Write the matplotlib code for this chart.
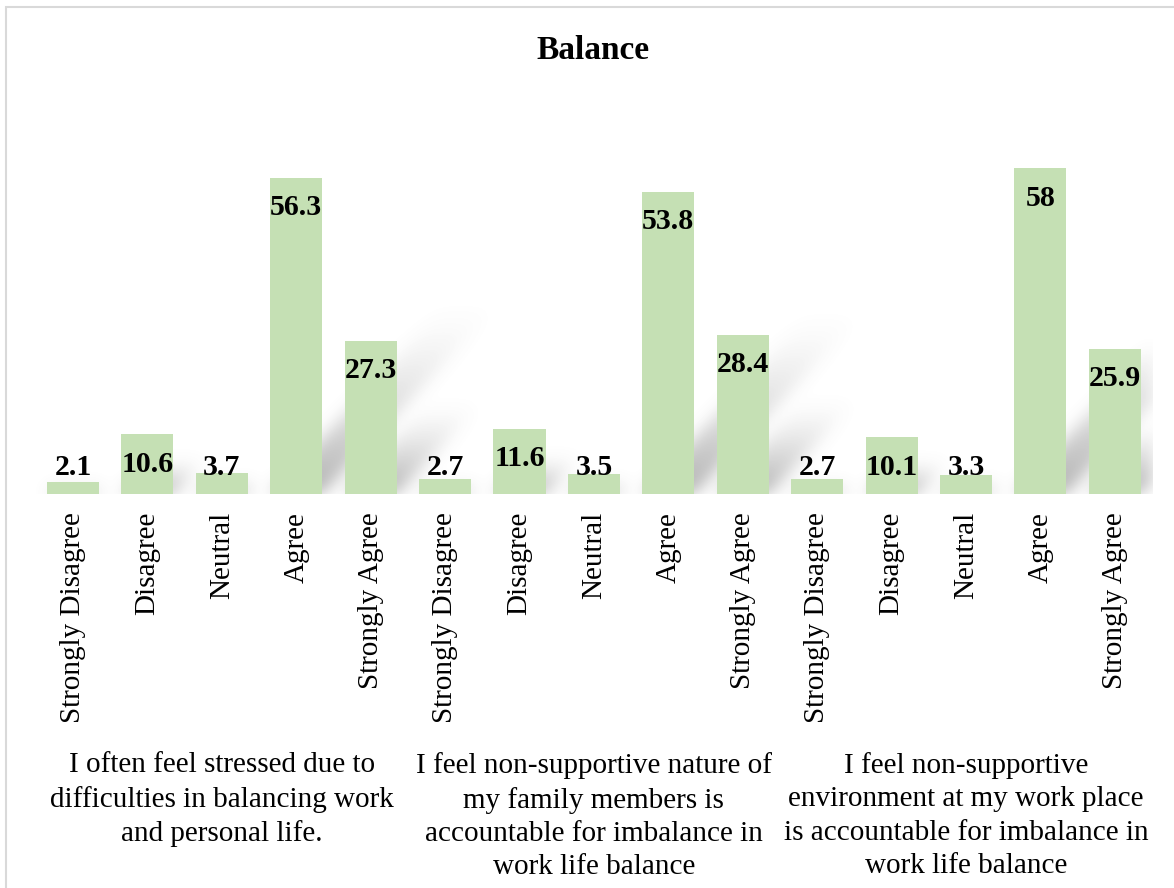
import numpy as np
import matplotlib.pyplot as plt
from matplotlib import transforms
from matplotlib.patches import Rectangle

plt.rcParams['font.family'] = ['Liberation Serif', 'DejaVu Serif']

# данные
answers = ["Strongly Disagree", "Disagree", "Neutral", "Agree", "Strongly Agree"]
stress = [2.1, 10.6, 3.7, 56.3, 27.3]
family = [2.7, 11.6, 3.5, 53.8, 28.4]
workplace = [2.7, 10.1, 3.3, 58, 25.9]
groups = ["I often feel stressed due to\ndifficulties in balancing work\nand personal life.",
          "I feel non-supportive nature of\nmy family members is\naccountable for imbalance in\nwork life balance",
          "I feel non-supportive\nenvironment at my work place\nis accountable for imbalance in\nwork life balance"]

values = stress + family + workplace
labels = answers * 3
x = np.arange(len(values))
ymax = 70

fig = plt.figure(figsize=(11.74, 8.88), dpi=100)
ax = fig.add_axes([0.0305, 0.4437, 0.9508, 0.4426])

# тень как в экселе (диагональ вверх-вправо, затухает)
nx, ny = 1116, 393
gx = np.linspace(-0.5, 14.5, nx)
gy = np.linspace(0, ymax, ny)
X, Y = np.meshgrid(gx, gy)
shade = np.zeros_like(X)
shear = 0.07
for xi, v in zip(x, values):
    H = 0.6 * v
    t = Y / H
    inside = (t < 1) & (X >= xi - 0.35 + shear * Y) & (X <= xi + 0.35 + shear * Y)
    shade = np.maximum(shade, np.where(inside, (1 - np.clip(t, 0, 1)) ** 1.4, 0))

k = np.arange(-24, 25)
g = np.exp(-k ** 2 / (2 * 8.0 ** 2))
g /= g.sum()
shade = np.apply_along_axis(lambda r: np.convolve(r, g, mode='same'), 1, shade)
shade = np.apply_along_axis(lambda c: np.convolve(c, g, mode='same'), 0, shade)
img = np.zeros((ny, nx, 4))
img[..., :3] = 0.45
img[..., 3] = 0.55 * shade
ax.imshow(img, extent=[-0.5, 14.5, 0, ymax], origin='lower', aspect='auto', zorder=1)

ax.bar(x, values, width=0.7, color='#C5E0B4', zorder=2)

for xi, v in zip(x, values):
    ax.text(xi, max(v - 5.3, 4.8), f"{v:g}", ha='center', va='center',
            fontsize=21.5, fontweight='bold', zorder=3)

ax.set_xlim(-0.5, 14.5)
ax.set_ylim(0, ymax)
ax.set_xticks(x)
ax.set_xticklabels(labels, rotation=90, fontsize=21)
ax.tick_params(axis='x', length=0, pad=13)
ax.set_yticks([])
for s in ax.spines.values():
    s.set_visible(False)

trans = transforms.blended_transform_factory(ax.transData, fig.transFigure)
for i, g_label in enumerate(groups):
    ax.text(2 + 5 * i, 0.153, g_label, transform=trans, ha='center', va='top',
            fontsize=21, linespacing=1.36, multialignment='center')

fig.text(0.505, 0.943, "Balance", ha='center', va='center', fontsize=24, fontweight='bold')

# рамка
fig.patches.append(Rectangle((6 / 1174, -0.1), 1.2, (888 - 7) / 888 + 0.1,
                             transform=fig.transFigure, fill=False,
                             edgecolor='#D9D9D9', linewidth=1.5))

fig.savefig("out.png", dpi=100)
